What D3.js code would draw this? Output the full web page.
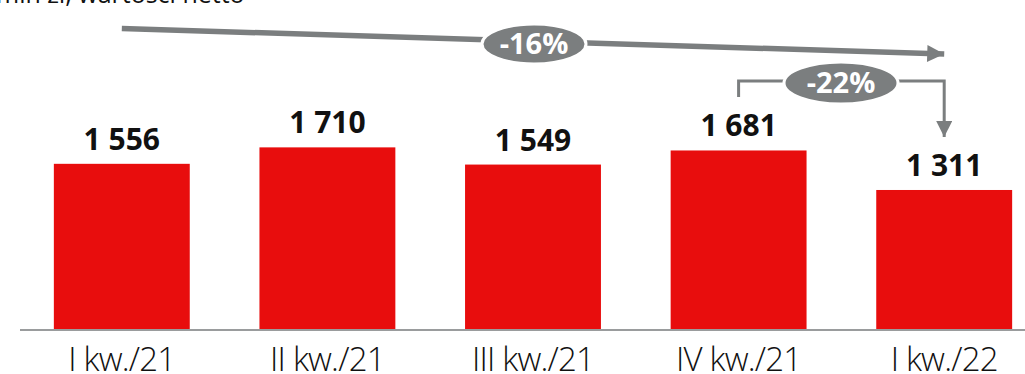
<!DOCTYPE html>
<html>
<head>
<meta charset="utf-8">
<script src="https://cdn.jsdelivr.net/npm/d3@7"></script>
<style>
  html, body { margin: 0; padding: 0; background: #fff; }
  svg { display: block; }
</style>
</head>
<body>
<svg id="chart" width="1025" height="374"></svg>
<script>
// Quarterly values (mln zł)
const categories = ["I kw./21", "II kw./21", "III kw./21", "IV kw./21", "I kw./22"];
const values = [1556, 1710, 1549, 1681, 1311];
const valueLabels = ["1 556", "1 710", "1 549", "1 681", "1 311"];
const unitLabel = "mln zł, wartości netto";
const yoyChange = "-16%";
const qoqChange = "-22%";

const W = 1025, H = 374;
const baseline = 330;
const red = "#e80d0d";
const grey = "#7b7e7f";

const svg = d3.select("#chart");

const x = d3.scaleBand()
  .domain(categories)
  .range([19, 1047])
  .paddingInner(0.339)
  .paddingOuter(0.1695);

const y = d3.scaleLinear()
  .domain([0, 2000])
  .range([baseline, baseline - 213.6]);

const bw = x.bandwidth();
const cx = c => x(c) + bw / 2;

// unit caption (clipped by top edge)
svg.append("text")
  .attr("x", -4).attr("y", 3)
  .attr("font-family", "Open Sans, sans-serif")
  .attr("font-size", 25)
  .attr("fill", "#111")
  .text(unitLabel);

// bars
svg.selectAll("rect.bar")
  .data(values)
  .join("rect")
  .attr("class", "bar")
  .attr("x", (d, i) => x(categories[i]))
  .attr("y", d => y(d))
  .attr("width", bw)
  .attr("height", d => y(0) - y(d))
  .attr("fill", red);

// baseline axis
const axis = svg.append("g").attr("transform", `translate(0,${baseline})`)
  .call(d3.axisBottom(x).tickSize(0).tickPadding(0));
axis.select(".domain").remove();
axis.append("line")
  .attr("x1", 20).attr("x2", W).attr("y1", 0).attr("y2", 0)
  .attr("stroke", "#9a9c9d").attr("stroke-width", 2.2);
axis.selectAll(".tick text")
  .attr("y", 41)
  .attr("dy", 0)
  .attr("font-family", "Open Sans, sans-serif")
  .attr("font-weight", 300)
  .attr("font-size", 33)
  .attr("letter-spacing", -0.8)
  .attr("fill", "#111");

// value labels
svg.selectAll("text.val")
  .data(values)
  .join("text")
  .attr("class", "val")
  .attr("x", (d, i) => cx(categories[i]))
  .attr("y", d => y(d) - 14)
  .attr("text-anchor", "middle")
  .attr("font-family", "Open Sans, sans-serif")
  .attr("font-weight", 700)
  .attr("font-size", 30)
  .attr("fill", "#111")
  .text((d, i) => valueLabels[i]);

// arrowhead markers
const defs = svg.append("defs");
defs.append("marker")
  .attr("id", "headBig")
  .attr("viewBox", "0 0 10 10")
  .attr("refX", 10).attr("refY", 5)
  .attr("markerUnits", "userSpaceOnUse")
  .attr("markerWidth", 18).attr("markerHeight", 17)
  .attr("orient", "auto")
  .append("path").attr("d", "M0,0 L10,5 L0,10 Z").attr("fill", grey);
defs.append("marker")
  .attr("id", "headSmall")
  .attr("viewBox", "0 0 10 10")
  .attr("refX", 10).attr("refY", 5)
  .attr("markerUnits", "userSpaceOnUse")
  .attr("markerWidth", 16).attr("markerHeight", 16)
  .attr("orient", "auto")
  .append("path").attr("d", "M0,0 L10,5 L0,10 Z").attr("fill", grey);

// year-over-year trend arrow
const x1 = cx(categories[0]), x2 = cx(categories[4]);
svg.append("line")
  .attr("x1", x1).attr("y1", 28.5)
  .attr("x2", x2).attr("y2", 54)
  .attr("stroke", grey).attr("stroke-width", 5.5)
  .attr("marker-end", "url(#headBig)");

function badge(cxp, cyp, rx, ry, label, fs) {
  svg.append("ellipse")
    .attr("cx", cxp).attr("cy", cyp).attr("rx", rx).attr("ry", ry)
    .attr("fill", grey).attr("stroke", "#fff").attr("stroke-width", 3);
  svg.append("text")
    .attr("x", cxp).attr("y", cyp + fs * 0.36)
    .attr("text-anchor", "middle")
    .attr("font-family", "Open Sans, sans-serif")
    .attr("font-weight", 700)
    .attr("font-size", fs)
    .attr("fill", "#fff")
    .text(label);
}
badge(534, 44, 52, 20, yoyChange, 29);

// quarter-over-quarter bracket arrow
const x3 = cx(categories[3]);
svg.append("path")
  .attr("d", `M${x3},97 V81 H${x2} V137`)
  .attr("fill", "none")
  .attr("stroke", grey).attr("stroke-width", 3)
  .attr("marker-end", "url(#headSmall)");
badge(841, 83, 57, 21, qoqChange, 29);
</script>
</body>
</html>
